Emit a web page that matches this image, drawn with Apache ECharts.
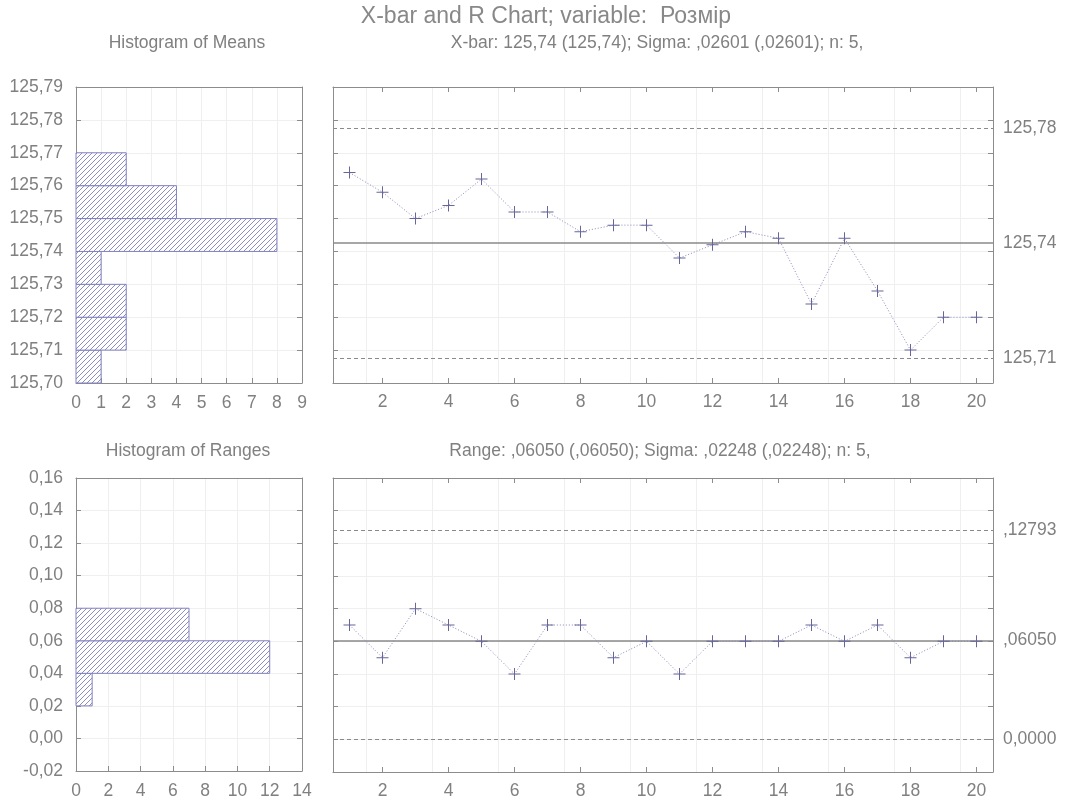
<!DOCTYPE html>
<html>
<head>
<meta charset="utf-8">
<script src="https://cdn.jsdelivr.net/npm/echarts@6/dist/echarts.min.js"></script>
<style>
  html, body { margin: 0; padding: 0; background: #fff; }
  #chart { width: 1067px; height: 800px; }
</style>
</head>
<body>
<div id="chart"></div>
<script>
// Sample numbers and sample statistics
const samples = ['1','2','3','4','5','6','7','8','9','10','11','12','13','14','15','16','17','18','19','20'];
const xbarValues = [125.764,125.758,125.750,125.754,125.762,125.752,125.752,125.746,125.748,125.748,
                    125.738,125.742,125.746,125.744,125.724,125.744,125.728,125.710,125.720,125.720];
const rangeValues = [0.07,0.05,0.08,0.07,0.06,0.04,0.07,0.07,0.05,0.06,
                     0.04,0.06,0.06,0.06,0.07,0.06,0.07,0.05,0.06,0.06];

// Control limits (upper, centre, lower) and their printed labels
const xbarLimits = [125.7774, 125.7425, 125.7076];
const xbarLimitLabels = ['125,78', '125,74', '125,71'];
const rangeLimits = [0.12793, 0.06050, 0.0];
const rangeLimitLabels = [',12793', ',06050', '0,0000'];

// Histogram bins: lower edges and counts
const meanBinEdges = [125.70,125.71,125.72,125.73,125.74,125.75,125.76];
const meanBinCounts = [1,2,2,1,8,4,2];
const meanBinWidth = 0.01;
const rangeBinEdges = [0.02,0.04,0.06];
const rangeBinCounts = [1,12,7];
const rangeBinWidth = 0.02;

const titleText = 'X-bar and R Chart; variable:  Розмір';
const xbarSubtitle = 'X-bar: 125,74 (125,74); Sigma: ,02601 (,02601); n: 5,';
const rangeSubtitle = 'Range: ,06050 (,06050); Sigma: ,02248 (,02248); n: 5,';

const FONT = '"Liberation Sans", Arial, Helvetica, sans-serif';
const TXT = '#808080';
const AXIS = '#8c8c8c';
const GRIDC = '#efefef';
const MARK = '#66669a';
const BAR = '#8080c0';

// Diagonal hatch used to fill histogram bars
function hatch() {
  const s = 5, c = document.createElement('canvas');
  c.width = s; c.height = s;
  const g = c.getContext('2d');
  g.fillStyle = '#fff'; g.fillRect(0, 0, s, s);
  g.strokeStyle = BAR; g.lineWidth = 0.9;
  g.beginPath();
  g.moveTo(0, s); g.lineTo(s, 0);
  g.moveTo(-1, 1); g.lineTo(1, -1);
  g.moveTo(s - 1, s + 1); g.lineTo(s + 1, s - 1);
  g.stroke();
  return { image: c, repeat: 'repeat' };
}
const hatchFill = hatch();

const commaFmt = d => v => v.toFixed(d).replace('.', ',');
const plus = 'path://M0,5.5H5.5V0H6.5V5.5H12V6.5H6.5V12H5.5V6.5H0Z';

const labelStyle = { color: TXT, fontFamily: FONT, fontSize: 17.5 };
const subStyle = { color: TXT, fontFamily: FONT, fontSize: 17.5, fontWeight: 'normal' };
const lineAxis = { show: true, onZero: false, lineStyle: { color: AXIS, width: 1 } };
const tickIn = { show: true, inside: true, length: 5, lineStyle: { color: AXIS } };
const split = { show: true, lineStyle: { color: GRIDC, width: 1 } };

function valueX(grid, min, max, interval, position, labels) {
  return {
    type: 'value', gridIndex: grid, min, max, interval, position,
    axisLine: lineAxis, axisTick: position === 'top' ? { show: false } : tickIn,
    splitLine: position === 'top' ? { show: false } : split,
    axisLabel: labels ? Object.assign({ margin: 11 }, labelStyle) : { show: false }
  };
}
function valueY(grid, min, max, interval, position, fmt) {
  return {
    type: 'value', gridIndex: grid, min, max, interval, position,
    axisLine: lineAxis, axisTick: tickIn,
    splitLine: position === 'left' ? split : { show: false },
    axisLabel: fmt ? Object.assign({ margin: 13, formatter: fmt }, labelStyle) : { show: false }
  };
}
const evenOnly = i => (i + 1) % 2 === 0;
function catX(grid, position, labels) {
  return {
    type: 'category', gridIndex: grid, data: samples, position, boundaryGap: true,
    axisLine: lineAxis,
    axisTick: Object.assign({ alignWithLabel: true, interval: evenOnly }, tickIn),
    splitLine: position === 'bottom' ? { show: true, interval: evenOnly, lineStyle: { color: GRIDC } } : { show: false },
    axisLabel: labels ? Object.assign({ margin: 10, interval: evenOnly }, labelStyle) : { show: false, interval: evenOnly }
  };
}

function histSeries(xi, yi, edges, counts, width) {
  return {
    type: 'custom', xAxisIndex: xi, yAxisIndex: yi, silent: true,
    data: edges.map((e, i) => [counts[i], e, e + width]),
    encode: { x: 0, y: [1, 2] },
    renderItem: (params, api) => {
      const p0 = api.coord([0, api.value(2)]);
      const p1 = api.coord([api.value(0), api.value(1)]);
      return {
        type: 'rect',
        shape: { x: p0[0], y: p0[1], width: p1[0] - p0[0], height: p1[1] - p0[1] },
        style: { fill: hatchFill, stroke: BAR, lineWidth: 1 }
      };
    }
  };
}

function controlSeries(xi, yi, values, limits, labels) {
  return {
    type: 'line', xAxisIndex: xi, yAxisIndex: yi, data: values, z: 5,
    symbol: plus, symbolSize: 12,
    itemStyle: { color: MARK },
    lineStyle: { color: '#8888bb', width: 1, type: [1, 2] },
    markLine: {
      silent: true, symbol: 'none', animation: false, precision: 6,
      data: limits.map((v, i) => ({
        yAxis: v,
        lineStyle: { color: '#8a8a8a', width: i === 1 ? 1.5 : 1, type: i === 1 ? 'solid' : [4, 3] },
        label: Object.assign({ show: true, position: 'end', distance: 10, formatter: labels[i] }, labelStyle)
      }))
    }
  };
}

const option = {
  animation: false,
  backgroundColor: '#fff',
  title: [
    { text: titleText, left: 541, top: 0, textAlign: 'center', textStyle: { color: '#888', fontFamily: FONT, fontSize: 23, fontWeight: 'normal' } },
    { text: 'Histogram of Means', left: 182, top: 29, textAlign: 'center', textStyle: subStyle },
    { text: xbarSubtitle, left: 652, top: 29, textAlign: 'center', textStyle: subStyle },
    { text: 'Histogram of Ranges', left: 183, top: 437, textAlign: 'center', textStyle: subStyle },
    { text: rangeSubtitle, left: 655, top: 437, textAlign: 'center', textStyle: subStyle }
  ],
  grid: [
    { left: 76, top: 87, width: 226, height: 296 },
    { left: 333, top: 87, width: 660, height: 296 },
    { left: 76, top: 478, width: 226, height: 294 },
    { left: 333, top: 478, width: 660, height: 294 }
  ],
  xAxis: [
    valueX(0, 0, 9, 1, 'bottom', true),
    valueX(0, 0, 9, 1, 'top', false),
    catX(1, 'bottom', true),
    catX(1, 'top', false),
    valueX(2, 0, 14, 2, 'bottom', true),
    valueX(2, 0, 14, 2, 'top', false),
    catX(3, 'bottom', true),
    catX(3, 'top', false)
  ],
  yAxis: [
    valueY(0, 125.70, 125.79, 0.01, 'left', commaFmt(2)),
    valueY(0, 125.70, 125.79, 0.01, 'right', null),
    valueY(1, 125.70, 125.79, 0.01, 'left', null),
    valueY(1, 125.70, 125.79, 0.01, 'right', null),
    valueY(2, -0.02, 0.16, 0.02, 'left', commaFmt(2)),
    valueY(2, -0.02, 0.16, 0.02, 'right', null),
    valueY(3, -0.02, 0.16, 0.02, 'left', null),
    valueY(3, -0.02, 0.16, 0.02, 'right', null)
  ],
  series: [
    histSeries(0, 0, meanBinEdges, meanBinCounts, meanBinWidth),
    controlSeries(2, 2, xbarValues, xbarLimits, xbarLimitLabels),
    histSeries(4, 4, rangeBinEdges, rangeBinCounts, rangeBinWidth),
    controlSeries(6, 6, rangeValues, rangeLimits, rangeLimitLabels)
  ]
};

const chart = echarts.init(document.getElementById('chart'), null, { renderer: 'canvas' });
chart.setOption(option);
</script>
</body>
</html>
